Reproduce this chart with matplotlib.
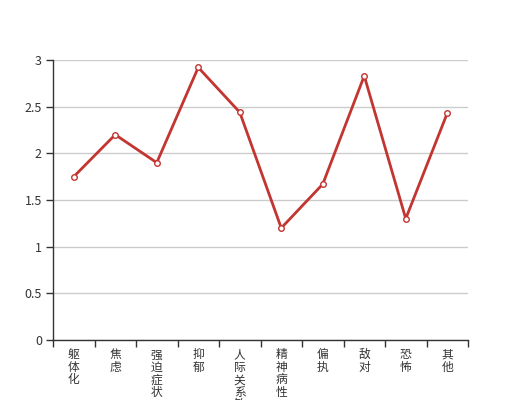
import numpy as np
import matplotlib
matplotlib.use('Agg')
import matplotlib.pyplot as plt
from matplotlib.ticker import FixedLocator

plt.rcParams['font.family'] = ['Noto Sans CJK SC', 'DejaVu Sans']

categories = ['躯体化', '焦虑', '强迫症状', '抑郁', '人际关系敏感',
              '精神病性', '偏执', '敌对', '恐怖', '其他']
values = [1.75, 2.2, 1.9, 2.92, 2.44, 1.2, 1.67, 2.83, 1.3, 2.43]
yticks = [0, 0.5, 1, 1.5, 2, 2.5, 3]
ytick_labels = ['0', '0.5', '1', '1.5', '2', '2.5', '3']

line_color = '#c23531'
axis_color = '#333333'

fig = plt.figure(figsize=(5.2, 4), dpi=100)
ax = fig.add_axes([53 / 520, 60 / 400, 415 / 520, 280 / 400])

x = np.arange(len(categories))
ax.plot(x, values, color=line_color, linewidth=2, marker='o', markersize=4,
        markerfacecolor='white', markeredgecolor=line_color, markeredgewidth=1,
        zorder=3, clip_on=False)

ax.set_xlim(-0.5, len(categories) - 0.5)
ax.set_ylim(0, 3)

# y axis
ax.set_yticks(yticks)
ax.set_yticklabels(ytick_labels)
ax.yaxis.grid(True, color='#cccccc', linewidth=1)
ax.set_axisbelow(True)
ax.tick_params(axis='y', direction='out', length=5, width=1, color=axis_color,
               labelcolor=axis_color, labelsize=9, pad=3)

# x axis: labels at band centres, ticks on boundaries
ax.set_xticks(x)
ax.set_xticklabels(['\n'.join(c) for c in categories], va='top', linespacing=0.95)
ax.xaxis.set_minor_locator(FixedLocator(np.arange(-0.5, len(categories), 1)))
ax.tick_params(axis='x', which='major', length=0, labelcolor=axis_color,
               labelsize=8.5, pad=6)
ax.tick_params(axis='x', which='minor', direction='out', length=5, width=1,
               color=axis_color)

for side in ['top', 'right']:
    ax.spines[side].set_visible(False)
for side in ['left', 'bottom']:
    ax.spines[side].set_color(axis_color)
    ax.spines[side].set_linewidth(1)

fig.savefig('out.png', dpi=100)
